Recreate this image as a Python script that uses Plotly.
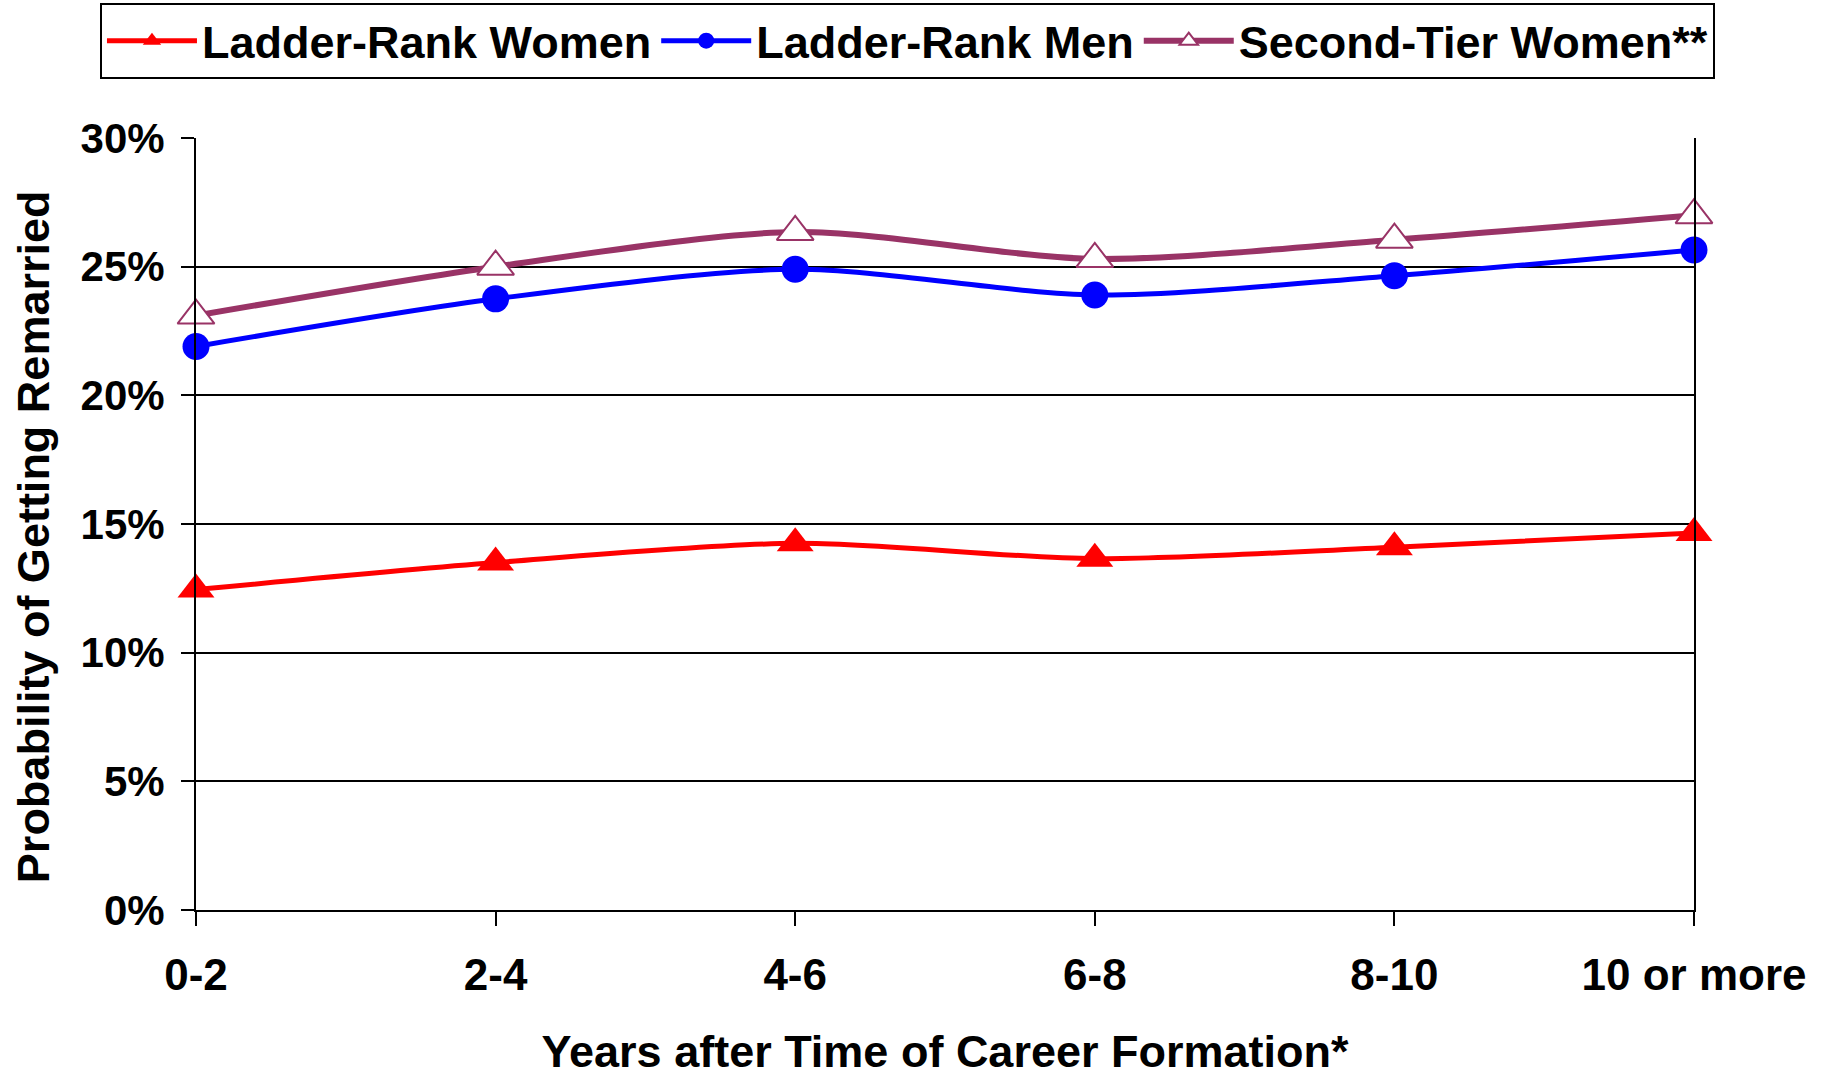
import plotly.graph_objects as go

categories = ["0-2", "2-4", "4-6", "6-8", "8-10", "10 or more"]
ladder_women = [12.45, 13.5, 14.25, 13.65, 14.1, 14.65]
ladder_men = [21.9, 23.75, 24.9, 23.9, 24.65, 25.65]
second_tier_women = [23.1, 25.0, 26.35, 25.3, 26.05, 27.0]
y_ticks = [0, 5, 10, 15, 20, 25, 30]
y_tick_labels = ["0%", "5%", "10%", "15%", "20%", "25%", "30%"]
x_title = "Years after Time of Career Formation*"
y_title = "Probability of Getting Remarried"

FONT = "Liberation Sans, Arial, sans-serif"

fig = go.Figure()
fig.add_trace(go.Scatter(
    x=categories, y=ladder_women, name="Ladder-Rank Women",
    mode="lines+markers", cliponaxis=False,
    line=dict(color="#FF0000", width=5, shape="spline", smoothing=0.8),
    marker=dict(symbol="triangle-up", size=32, color="#FF0000",
                line=dict(width=0)),
))
fig.add_trace(go.Scatter(
    x=categories, y=ladder_men, name="Ladder-Rank Men",
    mode="lines+markers", cliponaxis=False,
    line=dict(color="#0000FF", width=5, shape="spline", smoothing=0.8),
    marker=dict(symbol="circle", size=27, color="#0000FF",
                line=dict(width=0)),
))
fig.add_trace(go.Scatter(
    x=categories, y=second_tier_women, name="Second-Tier Women**",
    mode="lines+markers", cliponaxis=False,
    line=dict(color="#993366", width=6, shape="spline", smoothing=0.8),
    marker=dict(symbol="triangle-up", size=32, color="#FFFFFF",
                line=dict(width=2, color="#993366")),
))

fig.update_layout(
    width=1828, height=1077,
    paper_bgcolor="white", plot_bgcolor="white",
    margin=dict(l=196, r=134, t=138, b=167, autoexpand=False),
    font=dict(family=FONT, color="black", size=40, weight="bold"),
    showlegend=True,
    legend=dict(
        orientation="h",
        xref="paper", yref="paper",
        x=1.014, xanchor="right", y=1.175, yanchor="top",
        bordercolor="black", borderwidth=2, bgcolor="white",
        font=dict(family=FONT, size=45, color="black", weight="bold"),
        itemsizing="trace", itemwidth=90, tracegroupgap=0,
    ),
    xaxis=dict(
        type="category", range=[0, 5], automargin=False,
        showline=True, linecolor="black", linewidth=2,
        ticks="outside", ticklen=14, tickwidth=2, tickcolor="black",
        showgrid=False, zeroline=False,
        tickfont=dict(family=FONT, size=44, color="black", weight="bold"),
        ticklabelstandoff=11,
        title=dict(text=x_title,
                   font=dict(family=FONT, size=45, color="black", weight="bold"),
                   standoff=45),
    ),
    yaxis=dict(
        range=[0, 30], tickmode="array", tickvals=y_ticks, ticktext=y_tick_labels,
        automargin=False,
        showline=True, linecolor="black", linewidth=2, mirror=True,
        ticks="outside", ticklen=13, tickwidth=2, tickcolor="black",
        showgrid=True, gridcolor="black", gridwidth=2, zeroline=False,
        tickfont=dict(family=FONT, size=42, color="black", weight="bold"),
        ticklabelstandoff=8,
    ),
    annotations=[dict(
        text=y_title, textangle=-90, showarrow=False,
        xref="paper", yref="paper", x=-0.1088, y=0.483,
        xanchor="center", yanchor="middle",
        font=dict(family=FONT, size=45, color="black", weight="bold"),
    )],
)

fig.write_html(
    "out.html",
    config={"displayModeBar": False},
    post_script="document.body.style.margin='0';document.body.style.padding='0';",
)
